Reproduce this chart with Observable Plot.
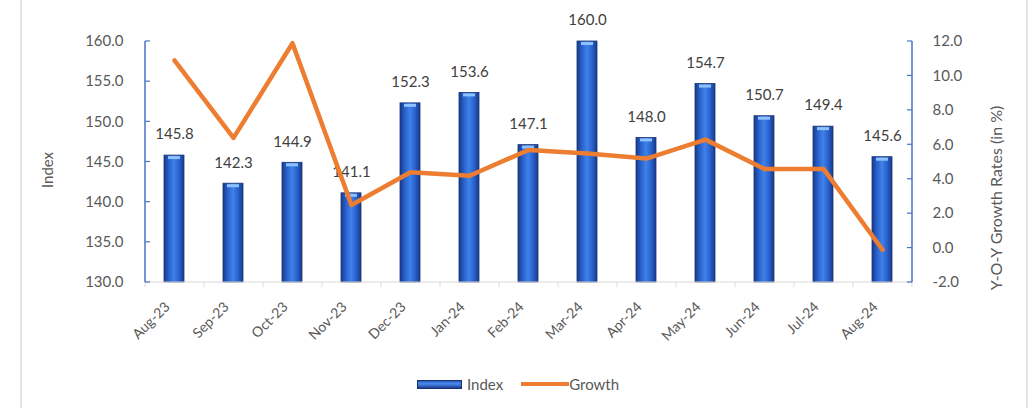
<!DOCTYPE html>
<html><head><meta charset="utf-8">
<script src="https://cdn.jsdelivr.net/npm/d3@7"></script>
<script src="https://cdn.jsdelivr.net/npm/@observablehq/plot@0.6"></script>
<style>
html,body{margin:0;padding:0;background:#fff;}
#wrap{position:relative;width:1028px;height:408px;overflow:hidden;font-family:Lato, "Open Sans", sans-serif;}
.bl{position:absolute;top:0;bottom:0;left:20px;width:2px;background:#e4e4e4;}
.br{position:absolute;top:0;bottom:0;left:1026px;width:2px;background:#e4e4e4;}
#chart{position:absolute;left:0;top:0;}
#legend{position:absolute;left:417px;top:375px;display:flex;align-items:center;font-size:15px;color:#595959;}
.sw{width:45px;height:9px;background:linear-gradient(to bottom,#2a5cc0,#4a8cf0 40%,#1d3f8f);border:1px solid #1a3270;box-sizing:border-box;}
.ln{width:48px;height:4px;background:#ed7d31;margin-left:18px;}
</style></head>
<body><div id="wrap"><div class="bl"></div><div class="br"></div><div id="chart"></div>
<div id="legend"><div class="sw"></div><span style="margin-left:5px">Index</span><div class="ln"></div><span>Growth</span></div>
</div>
<script>
const months = ["Aug-23","Sep-23","Oct-23","Nov-23","Dec-23","Jan-24","Feb-24","Mar-24","Apr-24","May-24","Jun-24","Jul-24","Aug-24"];
const indexValues = [145.8,142.3,144.9,141.1,152.3,153.6,147.1,160.0,148.0,154.7,150.7,149.4,145.6];
const growthValues = [10.9,6.4,11.9,2.5,4.4,4.2,5.7,5.5,5.2,6.3,4.6,4.6,-0.1];
const indexTicks = [130,135,140,145,150,155,160];
const growthTicks = [-2,0,2,4,6,8,10,12];

const data = months.map((m,i)=>({month:m, index:indexValues[i], growth:growthValues[i]}));
const gMin = -2, gMax = 12, iMin = 130, iMax = 160;
const toIdx = g => iMin + (g - gMin) * (iMax - iMin) / (gMax - gMin);
const fromIdx = v => gMin + (v - iMin) * (gMax - gMin) / (iMax - iMin);
const fmtG = v => { const r = Math.round(fromIdx(v) * 10) / 10; return (r === 0 ? 0 : r).toFixed(1); };

const chart = Plot.plot({
  width: 1028, height: 360,
  marginLeft: 145, marginRight: 116, marginTop: 41, marginBottom: 78,
  style: {fontFamily: "Lato, 'Open Sans', sans-serif", fontSize: "15px", color: "#595959", background: "transparent", overflow: "visible"},
  x: {domain: months, paddingInner: 0.66, paddingOuter: 0.33, align: 0.5, label: null},
  y: {domain: [iMin, iMax], label: null},
  marks: [
    Plot.barY(data, {x: "month", y1: iMin, y2: "index", fill: "url(#barGrad)", stroke: "#1a3270", strokeWidth: 0.8}),
    Plot.tickY(data, {x: "month", y: "index", stroke: "#8ec2ff", strokeWidth: 3, insetLeft: 4, insetRight: 4, dy: 2}),
    Plot.text(data, {x: "month", y: "index", text: d => d.index.toFixed(1), dy: -21, fill: "#404040", fontSize: 15, lineAnchor: "middle"}),
    Plot.line(data, {x: "month", y: d => toIdx(d.growth), stroke: "#ed7d31", strokeWidth: 4.5, strokeLinejoin: "round", strokeLinecap: "round"}),
    Plot.axisY({anchor: "left", ticks: indexTicks, tickFormat: d => d.toFixed(1), tickSize: 0, tickPadding: 22, fontSize: 15, label: null}),
    Plot.axisY({anchor: "right", ticks: growthTicks.map(toIdx), tickFormat: fmtG, tickSize: 0, tickPadding: 20, fontSize: 15, label: null}),
    Plot.axisX({tickRotate: -45, tickSize: 0, tickPadding: 16, fontSize: 14, dx: -7, dy: 6, label: null}),
    Plot.text(["Index"], {frameAnchor: "left", textAnchor: "middle", rotate: -90, dx: -97, dy: 8, fontSize: 15, fill: "#595959"}),
    Plot.text(["Y-O-Y Growth Rates (in %)"], {frameAnchor: "right", textAnchor: "middle", rotate: -90, dx: 84, dy: 36, fontSize: 16, fill: "#595959"})
  ]
});

document.getElementById("chart").appendChild(chart);

const svg = d3.select(chart);
const defs = svg.insert("defs", ":first-child");
const grad = defs.append("linearGradient").attr("id", "barGrad").attr("x1", 0).attr("x2", 1).attr("y1", 0).attr("y2", 0);
[[0,"#163a8c"],[0.25,"#2a62cc"],[0.5,"#3f82ea"],[0.75,"#2a62cc"],[1,"#163a8c"]].forEach(([o,c]) => grad.append("stop").attr("offset", o).attr("stop-color", c));

// axis decorations from the chart's own scales
const xs = chart.scale("x"), ys = chart.scale("y");
const x = d3.scaleBand(xs.domain, xs.range).paddingInner(xs.paddingInner).paddingOuter(xs.paddingOuter).align(xs.align);
const y = d3.scaleLinear(ys.domain, ys.range);
const step = x.step();
const left = x.range()[0], right = x.range()[1];
const g = svg.append("g");
g.append("line").attr("x1", left).attr("x2", right).attr("y1", y(iMin)).attr("y2", y(iMin)).attr("stroke", "#d9d9d9");
for (let i = 0; i <= months.length; i++) {
  const bx = x(months[0]) + x.bandwidth()/2 - step/2 + i*step;
  g.append("line").attr("x1", bx).attr("x2", bx).attr("y1", y(iMin)).attr("y2", y(iMin)+5).attr("stroke", "#d9d9d9");
}
g.append("line").attr("x1", left).attr("x2", left).attr("y1", y(iMax)).attr("y2", y(iMin)).attr("stroke", "#4a72c8").attr("stroke-width", 1.5);
indexTicks.forEach(t => g.append("line").attr("x1", left).attr("x2", left+5).attr("y1", y(t)).attr("y2", y(t)).attr("stroke", "#4a72c8").attr("stroke-width", 1.2));
g.append("line").attr("x1", right).attr("x2", right).attr("y1", y(iMax)).attr("y2", y(iMin)).attr("stroke", "#4a72c8").attr("stroke-width", 1.5);
growthTicks.forEach(t => g.append("line").attr("x1", right-5).attr("x2", right).attr("y1", y(toIdx(t))).attr("y2", y(toIdx(t))).attr("stroke", "#4a72c8").attr("stroke-width", 1.2));
</script>
</body></html>
